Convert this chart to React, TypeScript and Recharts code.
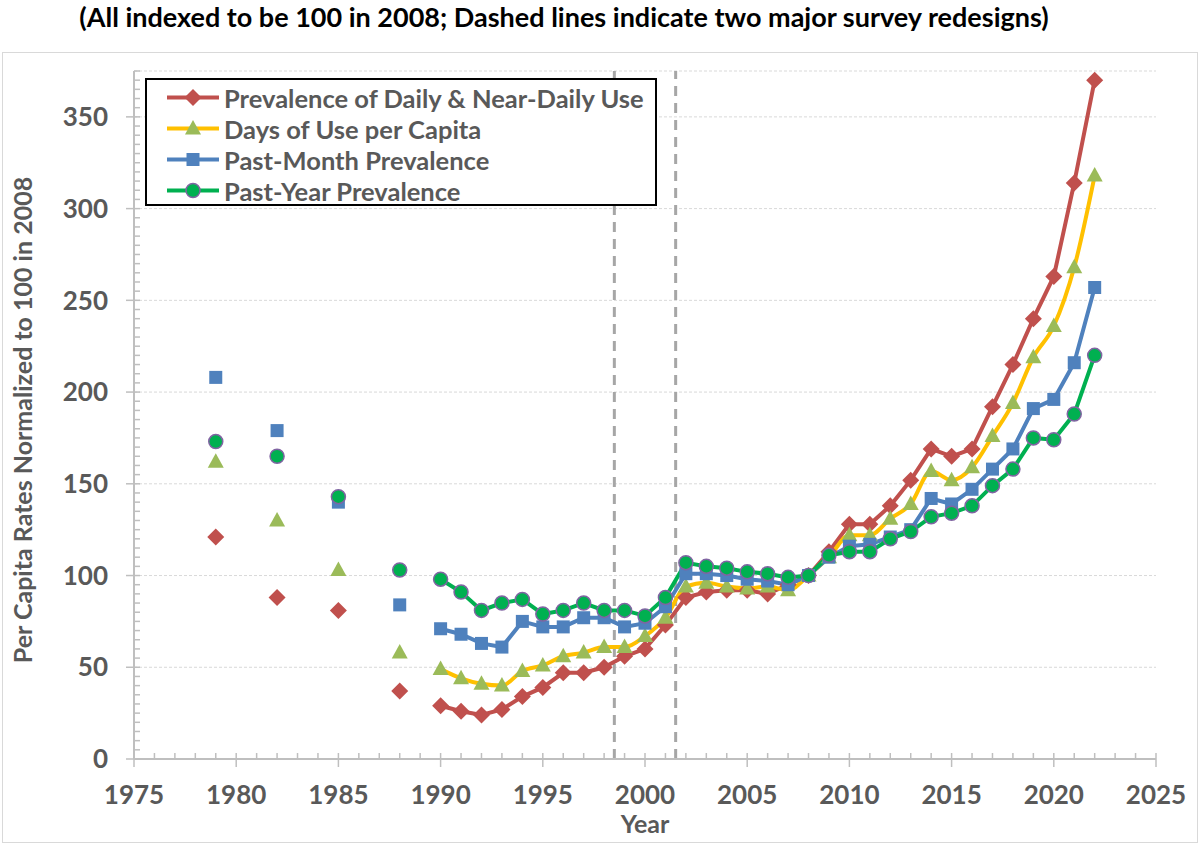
import React from "react";
import {
  CartesianGrid,
  ComposedChart,
  Line,
  ReferenceLine,
  Scatter,
  XAxis,
  YAxis,
} from "recharts";

// early surveys were not annual, so those points stand alone
const surveyYears = [1979, 1982, 1985, 1988];
const annualYears = [
  1990, 1991, 1992, 1993, 1994, 1995, 1996, 1997, 1998, 1999, 2000, 2001,
  2002, 2003, 2004, 2005, 2006, 2007, 2008, 2009, 2010, 2011, 2012, 2013,
  2014, 2015, 2016, 2017, 2018, 2019, 2020, 2021, 2022,
];

const dailyEarly = [121, 88, 81, 37];
const dailyAnnual = [
  29, 26, 24, 27, 34, 39, 47, 47, 50, 56, 60, 73, 88, 91, 92, 92, 90, 95, 100,
  113, 128, 128, 138, 152, 169, 165, 169, 192, 215, 240, 263, 314, 370,
];

const daysEarly = [162, 130, 103, 58];
const daysAnnual = [
  49, 44, 41, 40, 48, 51, 56, 58, 61, 61, 67, 77, 94, 96, 94, 93, 94, 92, 100,
  110, 122, 122, 131, 139, 157, 152, 159, 176, 194, 219, 236, 268, 318,
];

const monthEarly = [208, 179, 140, 84];
const monthAnnual = [
  71, 68, 63, 61, 75, 72, 72, 77, 77, 72, 74, 83, 101, 101, 100, 98, 97, 95,
  100, 110, 116, 117, 121, 125, 142, 139, 147, 158, 169, 191, 196, 216, 257,
];

const yearEarly = [173, 165, 143, 103];
const yearAnnual = [
  98, 91, 81, 85, 87, 79, 81, 85, 81, 81, 78, 88, 107, 105, 104, 102, 101, 99,
  100, 111, 113, 113, 120, 124, 132, 134, 138, 149, 158, 175, 174, 188, 220,
];

const xTicks = [1975, 1980, 1985, 1990, 1995, 2000, 2005, 2010, 2015, 2020, 2025];
const yTicks = [0, 50, 100, 150, 200, 250, 300, 350];
const redesigns = [1998.5, 2001.5];

const xMinorTicks = Array.from({ length: 51 }, (_, i) => 1975 + i);
const yMinorTicks = Array.from({ length: 76 }, (_, i) => i * 5);

const rows = (years: number[], values: number[]) =>
  years.map((year, i) => ({ year, value: values[i] }));

type Kind = "diamond" | "triangle" | "square" | "circle";

const series: {
  name: string;
  kind: Kind;
  line: string;
  fill: string;
  smooth: boolean;
  early: number[];
  annual: number[];
}[] = [
  { name: "Prevalence of Daily & Near-Daily Use", kind: "diamond", line: "#C0504D", fill: "#C0504D", smooth: false, early: dailyEarly, annual: dailyAnnual },
  { name: "Days of Use per Capita", kind: "triangle", line: "#FFC000", fill: "#9BBB59", smooth: true, early: daysEarly, annual: daysAnnual },
  { name: "Past-Month Prevalence", kind: "square", line: "#4F81BD", fill: "#4F81BD", smooth: false, early: monthEarly, annual: monthAnnual },
  { name: "Past-Year Prevalence", kind: "circle", line: "#00B050", fill: "#00B050", smooth: false, early: yearEarly, annual: yearAnnual },
];

const FONT = "Lato, 'Open Sans', sans-serif";
const GREY = "#595959";
const AXIS = "#BFBFBF";

function Marker({ kind, cx, cy, fill }: { kind: Kind; cx?: number; cy?: number; fill: string }) {
  if (cx == null || cy == null) return null;
  if (kind === "diamond") {
    const r = 8.5;
    return <path d={`M${cx},${cy - r}L${cx + r},${cy}L${cx},${cy + r}L${cx - r},${cy}Z`} fill={fill} />;
  }
  if (kind === "triangle") {
    return (
      <path
        d={`M${cx},${cy - 8.5}L${cx + 8},${cy + 6}L${cx - 8},${cy + 6}Z`}
        fill={fill}
      />
    );
  }
  if (kind === "square") {
    return <rect x={cx - 6.5} y={cy - 6.5} width={13} height={13} fill={fill} />;
  }
  return <circle cx={cx} cy={cy} r={7} fill={fill} stroke="#8064A2" strokeWidth={1.5} />;
}

function LegendBox() {
  return (
    <div
      style={{
        position: "absolute",
        left: 145,
        top: 78,
        width: 508,
        height: 122,
        border: "2px solid #000",
        background: "#fff",
        fontFamily: FONT,
        fontWeight: 700,
        fontSize: 25.5,
        color: GREY,
        paddingTop: 2,
      }}
    >
      {series.map((s) => (
        <div key={s.name} style={{ display: "flex", alignItems: "center", height: 31 }}>
          <svg width={76} height={31} style={{ flex: "none" }}>
            <line x1={20} y1={15.5} x2={72} y2={15.5} stroke={s.line} strokeWidth={4} />
            <Marker kind={s.kind} cx={46} cy={15.5} fill={s.fill} />
          </svg>
          <span style={{ marginLeft: 1, whiteSpace: "nowrap" }}>{s.name}</span>
        </div>
      ))}
    </div>
  );
}

const noLabel = () => "";

export default function App() {
  return (
    <div style={{ position: "absolute", left: 0, top: 0, width: 1200, height: 845, background: "#fff" }}>
      <div
        style={{
          position: "absolute",
          left: 2,
          top: 52,
          width: 1194,
          height: 789,
          border: "1px solid #D9D9D9",
        }}
      />
      <div
        style={{
          position: "absolute",
          left: 0,
          width: 1128,
          top: 0,
          textAlign: "center",
          fontFamily: FONT,
          fontWeight: 700,
          fontSize: 27,
          color: "#000",
          whiteSpace: "nowrap",
        }}
      >
        (All indexed to be 100 in 2008; Dashed lines indicate two major survey redesigns)
      </div>

      <ComposedChart
        width={1200}
        height={845}
        margin={{ top: 71, right: 44, bottom: 26, left: 0 }}
        style={{ position: "absolute", left: 0, top: 0 }}
      >
        <CartesianGrid horizontal vertical={false} stroke="#D9D9D9" strokeDasharray="3 2" />
        <XAxis
          type="number"
          dataKey="year"
          domain={[1975, 2025]}
          ticks={xTicks}
          allowDataOverflow
          height={60}
          tickSize={8}
          tickMargin={19}
          stroke={AXIS}
          axisLine={{ stroke: AXIS, strokeWidth: 2 }}
          tickLine={{ stroke: AXIS, strokeWidth: 1.5 }}
          tick={{ fill: GREY, fontFamily: FONT, fontWeight: 700, fontSize: 26 }}
        />
        <XAxis
          xAxisId="minor"
          dataKey="year"
          type="number"
          domain={[1975, 2025]}
          ticks={xMinorTicks}
          allowDataOverflow
          mirror
          tickFormatter={noLabel}
          tick={{ fontSize: 1 }}
          tickSize={6}
          axisLine={false}
          tickLine={{ stroke: AXIS, strokeWidth: 1.5 }}
        />
        <YAxis
          type="number"
          domain={[0, 375]}
          ticks={yTicks}
          allowDataOverflow
          width={134}
          tickSize={8}
          tickMargin={18}
          axisLine={{ stroke: AXIS, strokeWidth: 2 }}
          tickLine={{ stroke: AXIS, strokeWidth: 1.5 }}
          tick={{ fill: GREY, fontFamily: FONT, fontWeight: 700, fontSize: 26 }}
        />
        <YAxis
          yAxisId="minor"
          type="number"
          domain={[0, 375]}
          ticks={yMinorTicks}
          allowDataOverflow
          mirror
          tickFormatter={noLabel}
          tick={{ fontSize: 1 }}
          tickSize={6}
          axisLine={false}
          tickLine={{ stroke: AXIS, strokeWidth: 1.5 }}
        />
        {redesigns.map((x) => (
          <ReferenceLine key={x} x={x} stroke="#A6A6A6" strokeWidth={3} strokeDasharray="10 7" />
        ))}
        {series.map((s) => (
          <Line
            key={s.name + "-line"}
            data={rows(annualYears, s.annual)}
            dataKey="value"
            type={s.smooth ? "monotone" : "linear"}
            stroke={s.line}
            strokeWidth={4}
            isAnimationActive={false}
            activeDot={false}
            dot={(p: any) => <Marker key={p.index} kind={s.kind} cx={p.cx} cy={p.cy} fill={s.fill} />}
          />
        ))}
        {series.map((s) => (
          <Scatter
            key={s.name + "-early"}
            data={rows(surveyYears, s.early)}
            dataKey="value"
            isAnimationActive={false}
            shape={(p: any) => <Marker kind={s.kind} cx={p.cx} cy={p.cy} fill={s.fill} />}
          />
        ))}
      </ComposedChart>

      <LegendBox />

      <div
        style={{
          position: "absolute",
          left: 0,
          top: 808,
          width: 1290,
          textAlign: "center",
          fontFamily: FONT,
          fontWeight: 700,
          fontSize: 25,
          color: GREY,
        }}
      >
        Year
      </div>
      <div
        style={{
          position: "absolute",
          left: 22,
          top: 420,
          transform: "translate(-50%, -50%) rotate(-90deg)",
          fontFamily: FONT,
          fontWeight: 700,
          fontSize: 25,
          color: GREY,
          whiteSpace: "nowrap",
        }}
      >
        Per Capita Rates Normalized to 100 in 2008
      </div>
    </div>
  );
}
